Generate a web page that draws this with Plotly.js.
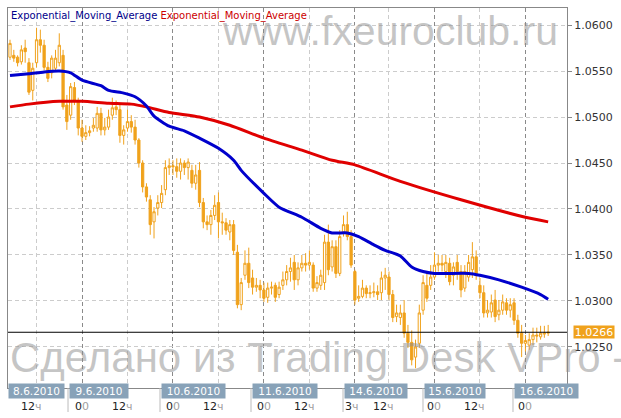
<!DOCTYPE html>
<html>
<head>
<meta charset="utf-8">
<script src="https://cdn.plot.ly/plotly-3.0.1.min.js"></script>
<style>
  html, body { margin: 0; padding: 0; background: #fff; }
  #chart { width: 621px; height: 418px; }
</style>
</head>
<body>
<div id="chart"></div>
<script>
// ---------- DATA (hourly candles, 8.6.2010 05h .. 16.6.2010 06h) ----------
// hour index: 0 = 9.6.2010 00:00 on the trading timeline (weekend skipped)
const startHour = -19;

const openP = [
  1.0565,1.0567,1.0565,1.0560,1.0575,1.0559,1.0529,1.0559,1.0584,1.0578,
  1.0554,1.0548,1.0553,1.0559,1.0567,1.0513,1.0502,1.0532,1.0518,1.0488,
  1.0479,1.0483,1.0488,1.0488,1.0504,1.0486,1.0489,1.0502,1.0511,1.0508,
  1.0480,1.0488,1.0495,1.0489,1.0475,1.0450,1.0424,1.0410,1.0386,1.0401,
  1.0407,1.0421,1.0445,1.0447,1.0446,1.0441,1.0450,1.0445,1.0442,1.0428,
  1.0442,1.0407,1.0386,1.0383,1.0393,1.0407,1.0386,1.0385,1.0375,1.0383,
  1.0353,1.0296,1.0328,1.0341,1.0325,1.0315,1.0317,1.0312,1.0304,1.0314,
  1.0317,1.0307,1.0317,1.0323,1.0332,1.0342,1.0323,1.0336,1.0341,1.0339,
  1.0339,1.0314,1.0317,1.0320,1.0364,1.0337,1.0359,1.0330,1.0375,1.0383,
  1.0370,1.0332,1.0303,1.0305,1.0314,1.0308,1.0309,1.0310,1.0309,1.0325,
  1.0326,1.0307,1.0283,1.0282,1.0287,1.0265,1.0255,1.0239,1.0254,1.0290,
  1.0317,1.0317,1.0326,1.0339,1.0341,1.0332,1.0341,1.0328,1.0342,1.0332,
  1.0314,1.0326,1.0334,1.0348,1.0317,1.0309,1.0287,1.0288,1.0301,1.0285,
  1.0290,1.0298,1.0290,1.0298,1.0279,1.0265,1.0254,1.0252,1.0258,1.0263,
  1.0261,1.0264,1.0265
];
const highP = [
  1.0584,1.0573,1.0567,1.0578,1.0584,1.0564,1.0559,1.0597,1.0595,1.0584,
  1.0560,1.0567,1.0573,1.0591,1.0573,1.0524,1.0537,1.0538,1.0521,1.0497,
  1.0491,1.0490,1.0499,1.0511,1.0510,1.0499,1.0508,1.0521,1.0518,1.0514,
  1.0491,1.0508,1.0502,1.0497,1.0477,1.0453,1.0428,1.0415,1.0402,1.0415,
  1.0426,1.0453,1.0455,1.0453,1.0455,1.0455,1.0453,1.0455,1.0448,1.0448,
  1.0451,1.0412,1.0393,1.0399,1.0415,1.0418,1.0396,1.0390,1.0388,1.0388,
  1.0361,1.0325,1.0355,1.0358,1.0334,1.0325,1.0323,1.0320,1.0320,1.0321,
  1.0320,1.0321,1.0332,1.0339,1.0347,1.0350,1.0342,1.0350,1.0352,1.0355,
  1.0342,1.0327,1.0334,1.0372,1.0383,1.0366,1.0366,1.0377,1.0393,1.0397,
  1.0377,1.0334,1.0317,1.0323,1.0317,1.0317,1.0320,1.0317,1.0332,1.0336,
  1.0332,1.0312,1.0296,1.0296,1.0301,1.0274,1.0268,1.0258,1.0296,1.0328,
  1.0332,1.0339,1.0353,1.0350,1.0350,1.0350,1.0347,1.0342,1.0350,1.0339,
  1.0339,1.0350,1.0364,1.0355,1.0325,1.0317,1.0301,1.0307,1.0312,1.0301,
  1.0307,1.0303,1.0303,1.0303,1.0285,1.0274,1.0263,1.0265,1.0271,1.0271,
  1.0273,1.0273,1.0274
];
const lowP = [
  1.0562,1.0560,1.0555,1.0557,1.0559,1.0524,1.0518,1.0554,1.0570,1.0551,
  1.0538,1.0542,1.0549,1.0555,1.0508,1.0486,1.0497,1.0513,1.0480,1.0473,
  1.0475,1.0479,1.0484,1.0484,1.0480,1.0480,1.0486,1.0497,1.0502,1.0472,
  1.0470,1.0484,1.0483,1.0470,1.0445,1.0418,1.0408,1.0372,1.0368,1.0393,
  1.0401,1.0415,1.0437,1.0437,1.0434,1.0432,1.0437,1.0432,1.0423,1.0421,
  1.0402,1.0379,1.0377,1.0372,1.0388,1.0368,1.0372,1.0372,1.0366,1.0350,
  1.0292,1.0290,1.0323,1.0314,1.0307,1.0310,1.0303,1.0299,1.0298,1.0307,
  1.0299,1.0303,1.0312,1.0317,1.0321,1.0312,1.0317,1.0332,1.0332,1.0334,
  1.0310,1.0310,1.0312,1.0312,1.0328,1.0332,1.0325,1.0327,1.0370,1.0366,
  1.0336,1.0296,1.0299,1.0303,1.0303,1.0303,1.0304,1.0301,1.0301,1.0312,
  1.0301,1.0277,1.0277,1.0274,1.0260,1.0249,1.0230,1.0227,1.0249,1.0285,
  1.0299,1.0312,1.0323,1.0332,1.0332,1.0325,1.0317,1.0317,1.0323,1.0304,
  1.0310,1.0321,1.0325,1.0323,1.0303,1.0282,1.0282,1.0282,1.0277,1.0279,
  1.0285,1.0285,1.0282,1.0274,1.0260,1.0239,1.0245,1.0247,1.0252,1.0255,
  1.0258,1.0260,1.0262
];
const closeP = [
  1.0580,1.0564,1.0559,1.0573,1.0571,1.0527,1.0553,1.0584,1.0578,1.0554,
  1.0542,1.0564,1.0564,1.0578,1.0511,1.0495,1.0533,1.0518,1.0488,1.0479,
  1.0483,1.0485,1.0491,1.0504,1.0486,1.0489,1.0500,1.0510,1.0508,1.0480,
  1.0486,1.0495,1.0489,1.0475,1.0450,1.0424,1.0413,1.0383,1.0397,1.0407,
  1.0417,1.0445,1.0447,1.0446,1.0441,1.0450,1.0445,1.0451,1.0428,1.0437,
  1.0407,1.0386,1.0383,1.0393,1.0404,1.0386,1.0385,1.0377,1.0383,1.0355,
  1.0296,1.0320,1.0341,1.0320,1.0315,1.0317,1.0312,1.0303,1.0314,1.0315,
  1.0304,1.0315,1.0323,1.0332,1.0336,1.0323,1.0336,1.0341,1.0339,1.0342,
  1.0314,1.0320,1.0328,1.0364,1.0334,1.0359,1.0330,1.0370,1.0383,1.0370,
  1.0339,1.0301,1.0305,1.0314,1.0308,1.0309,1.0310,1.0307,1.0325,1.0328,
  1.0307,1.0282,1.0287,1.0287,1.0265,1.0255,1.0236,1.0250,1.0287,1.0320,
  1.0303,1.0326,1.0339,1.0341,1.0339,1.0342,1.0321,1.0337,1.0332,1.0312,
  1.0332,1.0342,1.0348,1.0328,1.0309,1.0287,1.0290,1.0298,1.0283,1.0290,
  1.0299,1.0290,1.0296,1.0279,1.0265,1.0254,1.0257,1.0258,1.0263,1.0262,
  1.0265,1.0265,1.0266
];

// Exponential moving averages (hour index, value)
const emaFastHours = [-19,-14,-10,-6,-3,0,5,7,11,14,17,19,23,27,31,36,40,42,48,52,58,63,66,70,73,77,80,84,87,90,93,102,105,110,116,121,123];
const emaFastVals  = [1.0545,1.0547,1.0549,1.0550,1.0548,1.0540,1.0534,1.0529,1.0526,1.0522,1.0512,1.0501,1.0490,1.0485,1.0477,1.0466,1.0453,1.0442,1.0417,1.0402,1.0391,1.0379,1.0374,1.0374,1.0370,1.0361,1.0355,1.0349,1.0337,1.0332,1.0330,1.0330,1.0328,1.0323,1.0315,1.0307,1.0302];
const emaSlowHours = [-19,-14,-6,0,7,13,17,23,31,39,48,58,66,72,84,100,117,123];
const emaSlowVals  = [1.0511,1.0514,1.0517,1.0517,1.0515,1.0514,1.0511,1.0505,1.0500,1.0491,1.0477,1.0464,1.0453,1.0448,1.0430,1.0410,1.0391,1.0386];

// Axis labels
const priceTicks = [1.0250,1.0300,1.0350,1.0400,1.0450,1.0500,1.0550,1.0600];
const dayTickHours = [0,24,48,72,93,117];
const halfDayTickHours = [-12,12,36,60,81,105];
const hourTickHours = [-12,0,12,24,36,48,60,72,81,93,105,117];
const hourTickText = ['12ч','00','12ч','00','12ч','00','12ч','3ч','12ч','00','12ч','00'];
const dateLabels = ['8.6.2010','9.6.2010','10.6.2010','11.6.2010','14.6.2010','15.6.2010','16.6.2010'];
const legendNames = ['Exponential_Moving_Average','Exponential_Moving_Average'];

// ---------- CHART ----------
const hourIdx = openP.map((_, k) => startHour + k);
const ORANGE = '#f0a21c';
const FONT = 'DejaVu Sans, Verdana, sans-serif';

const traces = [
  {
    type: 'candlestick',
    x: hourIdx, open: openP, high: highP, low: lowP, close: closeP,
    increasing: { line: { color: ORANGE, width: 1 }, fillcolor: '#ffffff' },
    decreasing: { line: { color: ORANGE, width: 1 }, fillcolor: ORANGE },
    whiskerwidth: 0,
    hoverinfo: 'skip'
  },
  {
    type: 'scatter', mode: 'lines', x: emaSlowHours, y: emaSlowVals,
    line: { color: '#e00000', width: 3, shape: 'spline', smoothing: 0.6 }, hoverinfo: 'skip'
  },
  {
    type: 'scatter', mode: 'lines', x: emaFastHours, y: emaFastVals,
    line: { color: '#0000cc', width: 3, shape: 'spline', smoothing: 0.6 }, hoverinfo: 'skip'
  }
];

// layout helpers (positions in page pixels -> paper)
const L = 8, R = 54, T = 8, B = 30, W = 621, H = 418;
const PW = W - L - R, PH = H - T - B;
const py = (pix) => (H - B - pix) / PH;
const px = (pix) => (pix - L) / PW;

const boxStartHours = [null, -3.69, 20.58, 44.59, 68.87, 89.97, 113.72];
const boxWidths = [55, 58, 63, 64, 62, 60, 63];

const annotations = [];
const shapes = [];

// legend text
annotations.push({
  xref: 'paper', yref: 'paper', x: 0, y: py(16), xanchor: 'left', yanchor: 'middle', xshift: 1,
  showarrow: false, font: { family: FONT, size: 10 },
  text: `<span style="color:#00008b">${legendNames[0]}</span> <span style="color:#cc0000">${legendNames[1]}</span>`
});

// watermarks
annotations.push({
  xref: 'paper', yref: 'paper', x: px(560), y: py(31), xanchor: 'right', yanchor: 'middle',
  showarrow: false, text: 'www.fxeuroclub.ru',
  font: { family: 'Liberation Sans, Arial, sans-serif', size: 41, color: 'rgba(140,140,140,0.5)' }
});
annotations.push({
  xref: 'paper', yref: 'paper', x: 0, y: py(357), xanchor: 'left', yanchor: 'middle',
  showarrow: false, text: 'Сделано из Trading Desk VPro -',
  font: { family: 'Liberation Sans, Arial, sans-serif', size: 42, color: 'rgba(140,140,140,0.5)' }
});

// current price label
const lastClose = closeP[closeP.length - 1];
annotations.push({
  xref: 'paper', yref: 'y', x: 1, y: lastClose, xanchor: 'left', yanchor: 'middle', xshift: 6,
  showarrow: false, text: lastClose.toFixed(4), bgcolor: ORANGE, borderpad: 0,
  width: 40, height: 12, font: { family: FONT, size: 11, color: '#ffffff' }
});
shapes.push({
  type: 'line', xref: 'paper', yref: 'y', x0: 0, x1: 1, y0: lastClose, y1: lastClose,
  line: { color: '#000000', width: 1 }
});

// date boxes
dateLabels.forEach((lab, k) => {
  const a = {
    yref: 'paper', y: py(390.5), xanchor: 'left', yanchor: 'middle',
    showarrow: false, text: lab, bgcolor: '#88a2b8', borderpad: 0,
    width: boxWidths[k], height: 14, align: 'center',
    font: { family: FONT, size: 10.5, color: '#ffffff' }
  };
  if (boxStartHours[k] === null) { a.xref = 'paper'; a.x = 0; }
  else {
    a.xref = 'x'; a.x = boxStartHours[k]; a.xshift = 1;
    shapes.push({
      type: 'line', xref: 'x', yref: 'paper', x0: boxStartHours[k], x1: boxStartHours[k],
      y0: 0, y1: py(412), line: { color: '#bbbbbb', width: 1 }
    });
  }
  annotations.push(a);
});

// hour labels
hourTickHours.forEach((h, k) => {
  const t = hourTickText[k];
  const main = t.slice(0, -1), tail = t.slice(-1);
  const isTwelve = t.indexOf('12') === 0;
  annotations.push({
    xref: 'x', yref: 'paper', x: h, y: py(406), xanchor: 'center', yanchor: 'middle',
    xshift: isTwelve ? -5 : (t === '3ч' ? -3 : 0),
    showarrow: false,
    text: `<span style="color:#222">${main}</span><span style="color:#a0a0a0">${tail}</span>`,
    font: { family: FONT, size: 11 }
  });
});

const layout = {
  width: W, height: H,
  margin: { l: L, r: R, t: T, b: B, pad: 0 },
  paper_bgcolor: '#ffffff', plot_bgcolor: '#ffffff',
  showlegend: false, hovermode: false, boxgap: 0.15,
  font: { family: FONT, size: 11, color: '#333' },
  xaxis: {
    type: 'linear', range: [-19.53, 127.97],
    rangeslider: { visible: false },
    tickmode: 'array', tickvals: dayTickHours, showticklabels: false, ticks: '',
    showgrid: true, gridcolor: '#8a8a8a', gridwidth: 1, griddash: '4px,3px',
    minor: { tickmode: 'array', tickvals: halfDayTickHours, showgrid: true, gridcolor: '#cccccc', gridwidth: 1, griddash: '4px,3px', ticks: '' },
    zeroline: false, showline: true, mirror: true, linecolor: '#888888', linewidth: 1
  },
  yaxis: {
    side: 'right', range: [1.02054, 1.06185],
    tickmode: 'array', tickvals: priceTicks, tickformat: '.4f',
    ticks: 'outside', ticklen: 4, tickcolor: '#888888',
    tickfont: { family: FONT, size: 11, color: '#333333' },
    showgrid: true, gridcolor: '#cccccc', gridwidth: 1, griddash: '4px,3px',
    zeroline: false, showline: true, mirror: true, linecolor: '#888888', linewidth: 1
  },
  annotations: annotations,
  shapes: shapes
};

Plotly.newPlot('chart', traces, layout, { displayModeBar: false, staticPlot: true });
</script>
</body>
</html>
